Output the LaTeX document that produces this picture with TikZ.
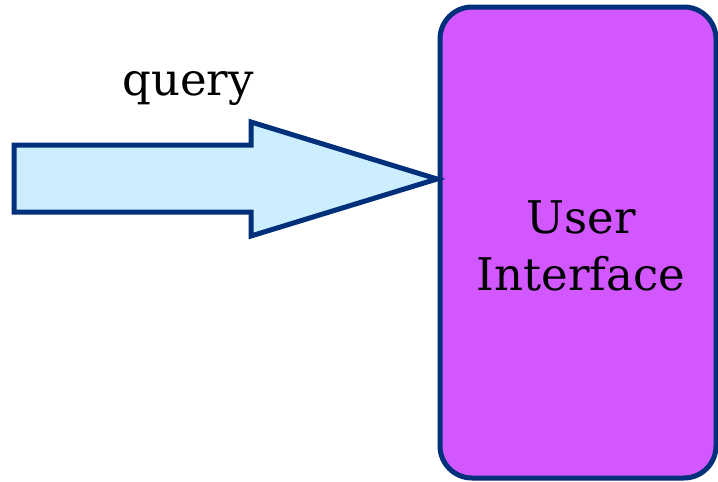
\documentclass[tikz,border=0pt]{standalone}
\usepackage{fontspec}
\setmainfont{DejaVu Serif}
\definecolor{uipurple}{HTML}{D257FF}
\definecolor{arrowcyan}{HTML}{CCEEFF}
\definecolor{edgeblue}{HTML}{00307A}
\begin{document}
\begin{tikzpicture}[x=1pt,y=-1pt,
  outline/.style={draw=edgeblue,line width=5pt,line join=miter},
  lbl/.style={font=\fontsize{45}{57}\selectfont,text=black,align=center,inner sep=0pt}]
\useasboundingbox (0,0) rectangle (718,482);
\draw[outline,fill=uipurple,rounded corners=32pt] (440,7) rectangle (716,478);
\node[lbl,anchor=base] (ui) at (581,290) {User\\Interface};
\draw[outline,fill=arrowcyan] (14,145) -- (251,145) -- (251,122) -- (437,179) -- (251,236) -- (251,212) -- (14,212) -- cycle;
\coordinate (tip) at (437,179);
\node[lbl,anchor=base] (q) at (188,95) {query};
\end{tikzpicture}
\end{document}
